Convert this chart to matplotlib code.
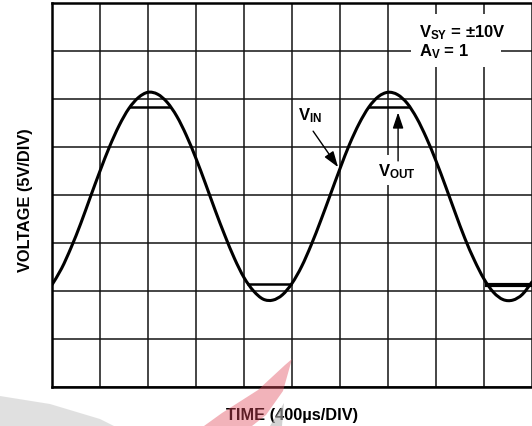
import numpy as np
import matplotlib
matplotlib.use('Agg')
import matplotlib.pyplot as plt
from matplotlib.patches import Rectangle, Polygon, PathPatch
from matplotlib.path import Path

# Scope trace, sampled every 0.2 division (x in DIV, y in DIV from bottom)
time_div = np.linspace(0, 10, 51)
vin = [2.13, 2.47, 2.91, 3.41, 3.96, 4.50, 5.01, 5.45, 5.80, 6.03,
       6.14, 6.10, 5.93, 5.64, 5.24, 4.76, 4.23, 3.68, 3.16, 2.68,
       2.28, 2.00, 1.83, 1.81, 1.92, 2.16, 2.51, 2.96, 3.47, 4.01,
       4.55, 5.06, 5.49, 5.83, 6.05, 6.14, 6.09, 5.91, 5.60, 5.19,
       4.71, 4.18, 3.63, 3.10, 2.64, 2.25, 1.97, 1.82, 1.81, 1.93,
       2.19]

# Output clipping levels and where the output sits flat on them
vout_hi = 5.83
vout_hi_spans = [(1.61, 2.47), (6.58, 7.46)]
vout_lo = 2.15
vout_lo_spans = [(4.06, 4.99), (9.02, 10.0)]

n_xdiv = 10
n_ydiv = 8

plt.rcParams['font.family'] = 'Liberation Sans'
plt.rcParams['font.weight'] = 'bold'
plt.rcParams['mathtext.fontset'] = 'custom'
plt.rcParams['mathtext.rm'] = 'Liberation Sans:bold'
plt.rcParams['mathtext.it'] = 'Liberation Sans:bold'
plt.rcParams['mathtext.bf'] = 'Liberation Sans:bold'


def smooth_path(x, y):
    # Catmull-Rom through the samples, drawn as cubic Bezier pieces
    pts = np.column_stack([x, y])
    verts = [pts[0]]
    codes = [Path.MOVETO]
    for i in range(len(pts) - 1):
        p0 = pts[max(i - 1, 0)]
        p1 = pts[i]
        p2 = pts[i + 1]
        p3 = pts[min(i + 2, len(pts) - 1)]
        verts += [p1 + (p2 - p0) / 6, p2 - (p3 - p1) / 6, p2]
        codes += [Path.CURVE4] * 3
    return Path(verts, codes)


fig = plt.figure(figsize=(5.32, 4.27), dpi=100)
ax = fig.add_axes([52 / 532, 39 / 427, 480 / 532, 384 / 427])
ax.set_xlim(0, n_xdiv)
ax.set_ylim(0, n_ydiv)
ax.set_xticks(np.arange(0, n_xdiv + 1))
ax.set_yticks(np.arange(0, n_ydiv + 1))
ax.tick_params(length=0, labelbottom=False, labelleft=False)
ax.grid(True, color='#141414', lw=1.1)
ax.set_axisbelow(True)
for side in ax.spines:
    ax.spines[side].set_linewidth(1.8)
ax.spines['right'].set_visible(False)

# input sine and the clipped output flats
ax.add_patch(PathPatch(smooth_path(time_div, vin), fill=False, ec='black', lw=2.2,
                       zorder=3, capstyle='round', joinstyle='round'))
for x0, x1 in vout_hi_spans:
    ax.hlines(vout_hi, x0, x1, color='black', lw=1.8, zorder=3)
for i, (x0, x1) in enumerate(vout_lo_spans):
    ax.hlines(vout_lo - (0.02 if i == 1 else 0), x0, x1, color='black',
              lw=3.0 if i == 1 else 1.8, zorder=3)

# white patches behind the labels
ax.add_patch(Rectangle((7.48, 6.67), 1.87, 1.10, fc='white', ec='none', zorder=1))
ax.add_patch(Rectangle((6.78, 4.21), 0.90, 0.62, fc='white', ec='none', zorder=1))

ax.text(7.65, 7.30, r'$V_{SY}$ = ±10V', fontsize=12, zorder=4)
ax.text(7.65, 6.92, r'$A_{V}$ = 1', fontsize=12, zorder=4)
ax.text(5.13, 5.58, r'$V_{IN}$', fontsize=12, zorder=4)
ax.text(6.79, 4.40, r'$V_{OUT}$', fontsize=12, zorder=4)

arrow = dict(arrowstyle='-|>,head_length=0.8,head_width=0.27', mutation_scale=12,
             color='black', lw=1.0, shrinkA=0, shrinkB=0)
ax.annotate('', xy=(5.96, 4.58), xytext=(5.44, 5.33), arrowprops=arrow, zorder=4)
ax.annotate('', xy=(7.21, 5.72), xytext=(7.21, 4.71), arrowprops=arrow, zorder=4)

fig.text(25.5 / 532, 1 - 200 / 427, 'VOLTAGE (5V/DIV)', rotation=90,
         ha='center', va='center', fontsize=11.8)
fig.text(292 / 532, 1 - 420 / 427, 'TIME (400µs/DIV)', ha='center',
         va='baseline', fontsize=11.8)


# faint logo marks along the bottom edge
def px(points):
    return [(x / 532, 1 - y / 427) for x, y in points]


fig.add_artist(Polygon(px([(0, 397), (50, 405), (100, 420), (114, 427), (0, 427)]),
                       closed=True, fc='#bcbcbc', ec='none', alpha=0.45, zorder=10))
fig.add_artist(Polygon(px([(284, 404), (282, 427), (270, 427)]),
                       closed=True, fc='#b4b4b4', ec='none', alpha=0.6, zorder=10))
fig.add_artist(Polygon(px([(292, 360), (283, 392), (266, 416), (252, 427),
                           (204, 427), (222, 414), (258, 391), (285, 366)]),
                       closed=True, fc='#e04a5c', ec='none', alpha=0.42, zorder=10))

fig.savefig('out.png', dpi=100)
